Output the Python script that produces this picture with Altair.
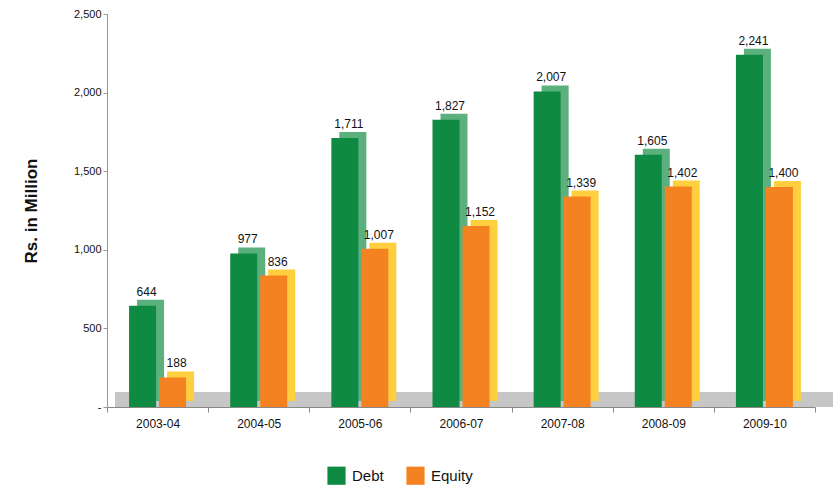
import altair as alt
import pandas as pd

years = ["2003-04", "2004-05", "2005-06", "2006-07", "2007-08", "2008-09", "2009-10"]
debt = [644, 977, 1711, 1827, 2007, 1605, 2241]
equity = [188, 836, 1007, 1152, 1339, 1402, 1400]
series = ["Debt", "Equity"]

df = pd.DataFrame(
    {"year": years * 2,
     "series": ["Debt"] * len(years) + ["Equity"] * len(years),
     "value": debt + equity}
)

FONT = "Liberation Sans"
W, H = 708, 393
GREEN, ORANGE = "#0f8a43", "#f58220"
GREEN_SIDE, ORANGE_SIDE = "#5cb07e", "#ffcf3f"

xenc = alt.X("year:N", sort=years, title=None,
             scale=alt.Scale(paddingInner=0, paddingOuter=0),
             axis=alt.Axis(labelFontSize=12, labelColor="#111", labelFont=FONT,
                           tickBand="extent", tickColor="#888", tickSize=5,
                           domainColor="#888", labelPadding=6, labelAngle=0))
yenc = alt.Y("value:Q", title="Rs. in Million",
             scale=alt.Scale(domain=[0, 2500], nice=False),
             axis=alt.Axis(values=[0, 500, 1000, 1500, 2000, 2500],
                           labelExpr="datum.value == 0 ? '-' : format(datum.value, ',')",
                           labelFontSize=11, labelColor="#111", labelFont=FONT,
                           tickColor="#999", tickSize=4, domainColor="#999",
                           grid=False, titleFont=FONT, titleFontSize=17,
                           titleFontWeight="bold", titleColor="#111", titlePadding=33))

base = alt.Chart(df).encode(x=xenc, y=yenc)

floor = alt.Chart(df).mark_rect(color="#c6c6c6").encode(
    x=alt.value(8), x2=alt.value(W + 18), y=alt.value(H - 15), y2=alt.value(H)
)

def layers(name, off, side, dx):
    b = base.transform_filter(alt.datum.series == name)
    back = b.mark_bar(width=27, xOffset=off + 8, yOffset=-6, color=side)
    front = b.mark_bar(width=27, xOffset=off).encode(
        color=alt.Color("series:N",
                        scale=alt.Scale(domain=series, range=[GREEN, ORANGE]),
                        legend=alt.Legend(title=None, orient="none", direction="horizontal",
                                          legendX=220, legendY=452, symbolType="square",
                                          symbolSize=330, symbolStrokeWidth=0,
                                          labelFontSize=15, labelFont=FONT, labelColor="#111",
                                          columnPadding=22, labelOffset=6))
    )
    txt = b.mark_text(dx=dx, dy=-10, baseline="alphabetic", fontSize=12,
                      font=FONT, color="#111").encode(text=alt.Text("value:Q", format=","))
    return [back, front, txt]

chart = alt.layer(
    floor,
    *layers("Debt", -15, GREEN_SIDE, -11),
    *layers("Equity", 15, ORANGE_SIDE, 19),
).properties(
    width=W, height=H, background="white",
    padding={"left": 107, "top": 14, "right": 21, "bottom": 84},
    autosize=alt.AutoSizeParams(type="none")
).configure_view(stroke=None)

chart.save("out.html", embed_options={"renderer": "svg", "actions": False})
